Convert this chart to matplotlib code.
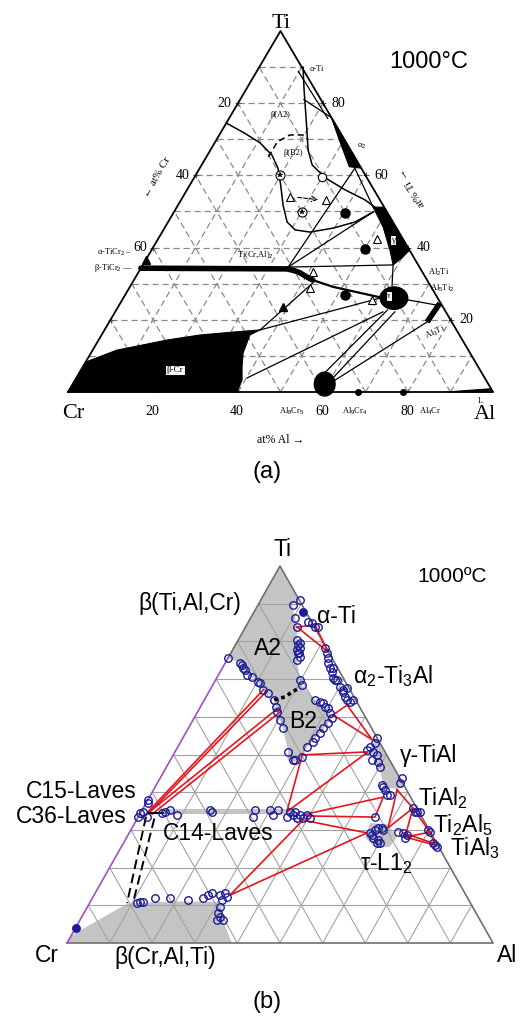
import numpy as np
import matplotlib.pyplot as plt
from matplotlib.patches import Polygon, Ellipse

plt.rcParams['font.family'] = ['Liberation Sans', 'DejaVu Sans']
plt.rcParams['mathtext.fontset'] = 'custom'
plt.rcParams['mathtext.rm'] = 'Liberation Sans'
plt.rcParams['mathtext.it'] = 'Liberation Sans:italic'
plt.rcParams['mathtext.bf'] = 'Liberation Sans:bold'
SERIF = ['Liberation Serif', 'DejaVu Serif']

# ---------------- (a) experimental isothermal section, compositions (at% Al, at% Ti)
a_alpha2 = [(23.8, 76.2), (38.0, 62.0), (35.0, 62.4), (30.0, 68.5)]
a_gamma = [(46.2, 51.2), (48.8, 51.2), (60.7, 39.3), (60.1, 37.4), (58.9, 35.2), (56.1, 39.3), (51.3, 45.7)]
a_beta_cr = [(0, 0), (0, 8.3), (5.7, 11.6), (9.1, 12.5), (16.1, 14.4), (23.2, 15.8), (30.5, 16.6),
             (36.6, 17.2), (34.9, 15.8), (35.3, 13.6), (35.8, 10.8), (37.5, 6.9), (39.3, 3.3), (39.8, 0)]
a_liquid = [(89.0, 0), (100, 0), (99.0, 0.9)]
a_tau = (63.7, 26.0)
a_al8cr5 = (59.3, 2.2)
a_al3ti = [(74.8, 19.4), (75.2, 24.6)]
a_ticr2 = [(0, 34.3), (34.5, 34.1), (36.5, 33.6), (38.1, 33.0), (40.0, 32.0), (42.1, 31.0)]
a_ticr2_tail = [(42.1, 31.0), (47.9, 29.1), (60.0, 26.3)]

a_beta_bdy = [(0, 74.5), (5.7, 71.7), (10.7, 69.0), (15.2, 65.6), (18.4, 62.0), (21.4, 57.3),
              (24.7, 51.8), (28.0, 47.1), (31.0, 44.9), (34.8, 44.3), (39.7, 45.4), (44.0, 47.1), (46.9, 49.9)]
a_alpha_bdy = [(10.3, 90.0), (13.7, 83.7), (18.4, 75.3), (23.0, 67.0), (26.0, 62.9), (30.9, 59.3),
               (37.2, 56.0), (43.3, 53.2), (46.6, 51.2)]
a_b2_bdy = [(14.6, 65.1), (14.6, 69.3), (16.6, 71.2), (19.7, 71.2), (21.6, 69.8)]
a_ties = [
    [(9.8, 88.8), (23.2, 75.8)],
    [(15.0, 81.0), (24.0, 76.0)],
    [(36.5, 62.0), (46.2, 51.2)],
    [(36.5, 62.0), (34.5, 34.6)],
    [(46.9, 49.9), (34.5, 34.6)],
    [(34.5, 34.6), (58.9, 35.2)],
    [(36.6, 17.2), (42.5, 30.2)],
    [(36.6, 17.2), (60.4, 26.0)],
    [(40.2, 3.9), (63.0, 22.2)],
    [(57.8, 5.5), (63.8, 22.7)],
    [(60.4, 3.9), (65.8, 22.2)],
    [(61.2, 3.3), (74.8, 19.4)],
    [(67.3, 25.5), (75.1, 24.0)],
    [(58.9, 35.2), (61.5, 29.5)],
]
a_dots = [(40.4, 49.6), (50.1, 39.6), (51.8, 26.9)]
a_base_dots = [(68.2, 0), (78.8, 0)]
a_open_tri = [(25.2, 54.0), (34.1, 53.2), (41.0, 33.2), (42.5, 28.8), (51.5, 42.4), (58.8, 25.5)]
a_fill_tri = [(38.9, 23.5), (0, 36.6)]
a_star_circ = [(19.9, 60.1), (30.2, 49.9)]
a_open_circ = [(30.0, 59.6)]

# ---------------- (b) calculated section, compositions (at% Al, at% Ti)
b_beta_ti = [(0, 100), (9.0, 91.0), (8.0, 89.7), (10.4, 86.2), (12.1, 83.8), (13.8, 80.4), (15.1, 77.7),
             (16.4, 75.1), (19.8, 69.8), (21.0, 68.4), (26.0, 64.5), (29.3, 62.6), (32.4, 59.7), (32.1, 58.4),
             (31.6, 55.7), (30.3, 52.0), (30.6, 49.3), (29.3, 48.0), (27.5, 48.5), (26.6, 50.7), (22.2, 57.0),
             (20.4, 59.2), (18.7, 61.3), (16.4, 64.5), (14.1, 66.3), (12.5, 67.1), (10.2, 69.2), (8.1, 70.6),
             (6.7, 71.1), (4.8, 73.0), (3.5, 74.3), (0, 75.6)]
b_c14 = [(4.5, 35.6), (34.5, 35.6), (35.2, 34.2), (5.2, 34.2)]
b_gamma = [(45.3, 54.7), (54.0, 46.0), (58.3, 41.7), (57.0, 40.8), (53.5, 41.5), (50.5, 46.0), (47.5, 48.8), (45.5, 51.5)]
b_tau = [(55.2, 31.8), (59.5, 31.5), (63.4, 28.1), (63.0, 25.5), (59.5, 25.5), (56.0, 28.0)]
b_beta_cr = [(0, 0), (0, 2.0), (9.0, 10.5), (20.0, 11.0), (29.3, 10.9), (31.6, 9.6), (33.5, 6.1), (38.7, 0)]

pts_alpha_ti = [(9.2, 91.0), (8.1, 89.7), (10.4, 86.2), (12.1, 83.8), (14.0, 85.2), (15.0, 84.9), (16.3, 83.8), (17.0, 83.8)]
pts_beta_col = [(13.8, 80.4), (14.6, 79.1), (14.9, 79.6), (15.1, 77.7), (15.6, 78.3), (15.8, 76.9), (16.0, 76.9),
                (16.5, 75.1), (16.8, 75.9)]
pts_alpha2 = [(21.4, 78.3), (22.6, 76.9), (23.5, 75.6), (24.1, 74.3), (25.2, 73.0), (25.9, 73.0), (26.3, 71.9),
              (27.3, 70.3), (28.0, 69.8), (28.5, 69.8), (30.2, 67.8), (31.3, 67.1), (31.5, 66.6), (31.9, 67.7),
              (32.6, 65.3), (33.5, 64.5), (34.5, 63.9), (34.9, 64.5)]
pts_a2_edge = [(0, 75.6), (3.5, 74.3), (4.2, 73.8), (4.8, 73.0), (5.6, 72.4), (6.7, 71.1), (8.1, 70.6), (10.2, 69.2),
               (10.8, 69.0), (12.5, 67.1), (14.1, 66.3), (16.4, 64.5), (17.8, 62.6), (18.7, 61.3), (20.4, 59.2), (22.2, 57.0)]
pts_b2 = [(19.8, 69.8), (21.0, 68.4), (26.0, 64.5), (27.5, 63.9), (28.3, 63.7), (29.3, 62.6), (30.2, 62.3),
          (31.2, 61.0), (32.4, 59.7), (32.1, 58.4), (31.6, 57.0), (31.6, 55.7), (31.0, 54.4), (31.1, 53.3),
          (30.3, 52.0), (30.6, 49.3), (29.3, 48.5), (28.8, 48.5), (26.6, 50.7)]
pts_gamma = [(45.6, 54.4), (45.8, 53.1), (45.1, 52.0), (44.8, 51.2), (46.5, 50.7), (47.9, 49.9), (49.0, 48.0),
             (50.2, 46.7), (47.4, 48.5), (56.7, 43.8), (57.0, 42.4)]
pts_tial2_side = [(53.0, 41.9), (53.5, 41.4), (54.3, 40.6), (55.5, 39.3), (56.2, 39.3), (55.6, 33.4)]
pts_tial2 = [(63.3, 35.8), (64.3, 34.8), (64.7, 34.8), (65.5, 34.8)]
pts_ti2al5 = [(63.0, 29.4), (64.3, 29.2), (65.4, 27.9), (65.5, 28.7), (69.7, 30.0), (70.5, 29.4)]
pts_tial3 = [(72.7, 26.5), (73.4, 26.0), (74.1, 25.5)]
pts_tau = [(56.5, 29.2), (57.3, 30.0), (57.8, 30.5), (58.7, 30.5), (59.2, 30.0), (57.9, 27.9), (59.4, 27.3),
           (60.3, 26.5), (59.6, 26.5), (57.3, 28.7)]
pts_c15 = [(0, 37.9), (0.5, 37.1)]
pts_c36 = [(0, 33.4), (0, 34.5), (0.4, 34.8), (2.1, 33.4), (5.1, 34.5), (5.6, 34.8), (6.6, 35.3), (8.8, 34.0)]
pts_c14 = [(16.6, 34.8), (16.0, 35.3), (26.5, 35.3), (27.0, 33.4), (30.0, 35.3), (31.4, 34.0), (31.9, 35.3),
           (34.9, 33.4), (34.9, 34.8), (36.0, 34.0), (37.4, 33.2), (37.7, 34.0), (38.8, 33.2), (39.3, 34.0),
           (40.4, 33.2), (36.1, 34.8)]
pts_beta_cr = [(11.1, 10.6), (11.7, 10.9), (12.4, 10.9), (14.7, 11.9), (18.3, 11.9), (22.7, 11.4), (26.0, 11.9),
               (26.8, 12.7), (27.4, 13.3), (29.6, 12.7), (30.5, 13.3), (31.5, 12.2), (30.7, 11.4), (31.1, 9.6),
               (31.4, 8.0), (32.5, 6.9), (32.2, 6.1), (33.6, 6.1)]
pts_filled = [(11.5, 87.8), (0, 4.0)]

tie_lines = [
    [(12.1, 83.8), (16.0, 84.4), (22.7, 77.2), (12.1, 83.8)],
    [(32.2, 60.5), (34.2, 63.1), (44.7, 53.9), (32.2, 60.5)],
    [(30.3, 49.9), (45.3, 50.7), (34.2, 34.8), (30.3, 49.9)],
    [(38.4, 34.0), (54.9, 38.7), (55.6, 33.4), (39.8, 33.7)],
    [(39.1, 32.6), (55.8, 29.2), (31.9, 12.7), (39.1, 32.6)],
    [(57.2, 40.6), (63.3, 35.8), (60.1, 30.5), (57.2, 40.6)],
    [(65.3, 28.1), (63.3, 35.8), (70.5, 29.4), (65.3, 28.1), (73.4, 26.0), (70.5, 29.4)],
    [(64.3, 29.2), (72.7, 26.5)],
    [(1.6, 34.8), (12.5, 67.1)],
    [(2.1, 34.8), (13.4, 66.6)],
    [(1.8, 34.5), (18.4, 62.3)],
    [(2.9, 34.2), (19.5, 61.5)],
]
a2_b2_order = [(16.4, 64.5), (18.6, 65.3), (19.5, 66.6), (20.9, 67.7)]
laves_dashed = [[(1.8, 33.5), (8.8, 10.6)], [(4.0, 33.0), (9.9, 11.6)]]
c36_bar = [(1.8, 34.5), (5.3, 34.5)]


def cart(pts):
    p = np.asarray(pts, float)
    return p[:, 0] + p[:, 1] / 2, p[:, 1]


def poly(ax, pts, **kw):
    x, y = cart(pts)
    ax.add_patch(Polygon(np.column_stack([x, y]), closed=True, **kw))


def grid(ax, **kw):
    for k in range(10, 100, 10):
        for seg in ([(0, k), (100 - k, k)], [(k, 0), (k, 100 - k)], [(100 - k, 0), (0, 100 - k)]):
            ax.plot(*cart(seg), **kw)


fig = plt.figure(figsize=(5.26, 10.21), dpi=100)
W, H = 526, 1021
ax_a = fig.add_axes([68 / W, (H - 392) / H, 425 / W, 361 / H])
ax_b = fig.add_axes([67 / W, (H - 943) / H, 426 / W, 377 / H])
for ax in (ax_a, ax_b):
    ax.set_xlim(0, 100)
    ax.set_ylim(0, 100)
    ax.axis('off')

# ======== (a)
ax = ax_a
grid(ax, color='#8a8a8a', lw=0.9, ls=(0, (5, 3)), zorder=1)
for k in range(20, 100, 20):
    for p in ([(0, 100 - k)], [(100 - k, k)], [(k, 0)]):
        ax.plot(*cart(p), '+', color='#555555', ms=5, mew=0.8, zorder=2)
ax.plot(*cart([(0, 0), (100, 0), (0, 100), (0, 0)]), color='black', lw=1.3, zorder=3, clip_on=False)
for shape in (a_alpha2, a_gamma, a_beta_cr, a_liquid):
    poly(ax, shape, fc='black', ec='black', lw=0.8, zorder=4, clip_on=False)
tx, ty = cart([a_tau])
ax.add_patch(Ellipse((tx[0], ty[0]), 6.8, 6.6, fc='black', zorder=4))
ex, ey = cart([a_al8cr5])
ax.add_patch(Ellipse((ex[0], ey[0]), 5.2, 7.0, fc='black', zorder=4, clip_on=False))
ax.plot(*cart(a_al3ti), color='black', lw=4, solid_capstyle='butt', zorder=4)
ax.plot(*cart(a_ticr2), color='black', lw=4, solid_capstyle='round', zorder=4)
ax.plot(*cart(a_ticr2_tail), color='black', lw=1.6, zorder=4)
ax.plot(*cart(a_beta_bdy), color='black', lw=1.1, zorder=4)
ax.plot(*cart(a_alpha_bdy), color='black', lw=1.1, zorder=4)
ax.plot(*cart(a_b2_bdy), color='black', lw=1.1, ls=(0, (4, 2.5)), zorder=4)
for seg in a_ties:
    ax.plot(*cart(seg), color='black', lw=0.9, zorder=4)
# arrow between the first two triangle points
(x0, x1), (y0, y1) = cart(a_open_tri[:2])
ax.annotate('', xy=(x1 - 1.2, y1), xytext=(x0 + 1.2, y0),
            arrowprops=dict(arrowstyle='->', color='black', lw=0.8, ls='--'), zorder=5)
ax.plot(*cart(a_dots), 'o', color='black', ms=6.5, zorder=5)
ax.plot(*cart(a_base_dots), 'o', color='black', ms=4, zorder=5, clip_on=False)
ax.plot(*cart(a_open_tri), '^', mfc='white', mec='black', ms=6, mew=0.8, zorder=5)
ax.plot(*cart(a_fill_tri), '^', color='black', ms=6, zorder=5, clip_on=False)
ax.plot(*cart(a_star_circ), 'o', mfc='white', mec='black', ms=6.5, mew=0.8, zorder=5)
ax.plot(*cart(a_star_circ), '*', color='black', ms=4, mew=0.3, zorder=6)
ax.plot(*cart(a_open_circ), 'o', mfc='white', mec='black', ms=6, mew=0.8, zorder=5)

box = dict(boxstyle='square,pad=0.15', fc='white', ec='black', lw=0.8)
ax.text(25.2, 6.1, 'β-Cr', family=SERIF, fontsize=6.5, ha='center', va='center', bbox=box, zorder=7)
ax.text(75.5, 26.6, 'τ', family=SERIF, fontsize=6.5, ha='center', va='center', bbox=box, zorder=7)
ax.text(76.5, 42.1, 'γ', family=SERIF, fontsize=6.5, ha='center', va='center', bbox=box, zorder=7)
small = dict(family=SERIF, fontsize=6, va='center', zorder=7)
ax.text(56.9, 89.5, 'α-Ti', ha='left', **small)
ax.text(49.9, 76.7, 'β(A2)', ha='center', **small)
ax.text(52.9, 66.2, 'β(B2)', ha='center', **small)
ax.text(69.2, 68.1, 'α$_2$', ha='center', **small)
ax.text(44.0, 37.9, 'Ti(Cr,Al)$_2$', ha='center', **small)
ax.text(15.1, 38.8, 'α-TiCr$_2$ –', ha='right', **small)
ax.text(15.3, 34.3, 'β-TiCr$_2$ —', ha='right', **small)
ax.text(84.7, 33.0, 'Al$_2$Ti', ha='left', **small)
ax.text(85.2, 28.8, 'Al$_5$Ti$_2$', ha='left', **small)
ax.text(86.4, 16.6, 'Al$_3$Ti', ha='center', rotation=25, **small)
ax.text(96.9, -2.6, 'L', ha='center', **small)
ax.text(52.7, -5.3, 'Al$_8$Cr$_5$', ha='center', **small)
ax.text(67.5, -5.3, 'Al$_9$Cr$_4$', ha='center', **small)
ax.text(85.2, -5.3, 'Al$_4$Cr', ha='center', **small)

tick = dict(family=SERIF, fontsize=10, va='center')
for k in (20, 40, 60):
    ax.text((100 - k) / 2 - 1.5, 100 - k, str(k), ha='right', **tick)
for k in (80, 60, 40, 20):
    ax.text(100 - k / 2 + 2.0, k, str(k), ha='left', **tick)
for k in (20, 40, 60, 80):
    ax.text(k - 0.2, -5.3, str(k), ha='center', **tick)
ax.text(20.9, 59.6, '← at% Cr', family=SERIF, fontsize=8, rotation=60, ha='center', va='center')
ax.text(80.9, 56.5, 'at% Ti →', family=SERIF, fontsize=8, rotation=120, ha='center', va='center')
ax.text(50.1, -14.1, 'at% Al →', family=SERIF, fontsize=8.5, ha='center', va='baseline')
ax.text(50.1, 100.9, 'Ti', family=SERIF, fontsize=16, ha='center', va='baseline')
ax.text(1.2, -7.2, 'Cr', family=SERIF, fontsize=16, ha='center', va='baseline')
ax.text(98.1, -7.6, 'Al', family=SERIF, fontsize=16, ha='center', va='baseline')
ax.text(84.9, 89.8, '1000°C', fontsize=17, ha='center', va='baseline')
ax.text(46.8, -23.8, '(a)', fontsize=17, ha='center', va='baseline')

# ======== (b)
ax = ax_b
gray = '#c4c4c4'
for shape in (b_beta_ti, b_c14, b_gamma, b_tau, b_beta_cr):
    poly(ax, shape, fc=gray, ec='none', zorder=1)
grid(ax, color='#a3a3a3', lw=0.8, zorder=2)
ax.plot(*cart([(0, 75.6), (0, 100), (100, 0), (0, 0)]), color='#6f6f6f', lw=1.2, zorder=3, clip_on=False)
ax.plot(*cart([(0, 0), (0, 75.6)]), color='#a24ec8', lw=1.2, zorder=3, clip_on=False)
for seg in tie_lines:
    ax.plot(*cart(seg), color='#e8141c', lw=1.2, zorder=4)
ax.plot(*cart(a2_b2_order), color='black', lw=2.6, ls=(0, (1, 1)), zorder=4)
for seg in laves_dashed:
    ax.plot(*cart(seg), color='black', lw=1.4, ls=(0, (5, 2.5)), zorder=4)
ax.plot(*cart(c36_bar), color='black', lw=1.4, zorder=4)

navy = '#1c1c98'
for group in (pts_alpha_ti, pts_beta_col, pts_alpha2, pts_a2_edge, pts_b2, pts_gamma, pts_tial2_side,
              pts_tial2, pts_ti2al5, pts_tial3, pts_tau, pts_c15, pts_c36, pts_c14, pts_beta_cr):
    ax.plot(*cart(group), 'o', mfc='none', mec=navy, ms=5.4, mew=1.0, zorder=5, clip_on=False)
ax.plot(*cart(pts_filled), 'o', mfc=navy, mec=navy, ms=5.4, zorder=5, clip_on=False)

lab = dict(fontsize=16.5, va='baseline', zorder=7)
ax.text(50.5, 102.6, 'Ti', ha='center', **lab)
ax.text(90.4, 95.8, '1000ºC', fontsize=15, ha='center', va='baseline')
ax.text(28.9, 88.3, 'β(Ti,Al,Cr)', ha='center', **lab)
ax.text(58.7, 84.9, 'α-Ti', ha='left', **lab)
ax.text(47.2, 76.4, 'A2', ha='center', **lab)
ax.text(67.1, 69.0, 'α$_2$-Ti$_3$Al', ha='left', **lab)
ax.text(55.4, 57.0, 'B2', ha='center', **lab)
ax.text(78.2, 48.0, 'γ-TiAl', ha='left', **lab)
ax.text(82.4, 36.6, 'TiAl$_2$', ha='left', **lab)
ax.text(85.9, 29.4, 'Ti$_2$Al$_5$', ha='left', **lab)
ax.text(89.9, 23.3, 'TiAl$_3$', ha='left', **lab)
ax.text(68.8, 19.4, 'τ-L1$_2$', ha='left', **lab)
ax.text(16.4, 38.5, 'C15-Laves', ha='right', **lab)
ax.text(14.1, 31.8, 'C36-Laves', ha='right', **lab)
ax.text(22.5, 27.3, 'C14-Laves', ha='left', **lab)
ax.text(-4.7, -5.0, 'Cr', ha='center', **lab)
ax.text(23.0, -5.6, 'β(Cr,Al,Ti)', ha='center', **lab)
ax.text(100.9, -5.0, 'Al', ha='left', **lab)
ax.text(46.9, -17.2, '(b)', fontsize=17, ha='center', va='baseline')

fig.savefig('out.png', dpi=100)
